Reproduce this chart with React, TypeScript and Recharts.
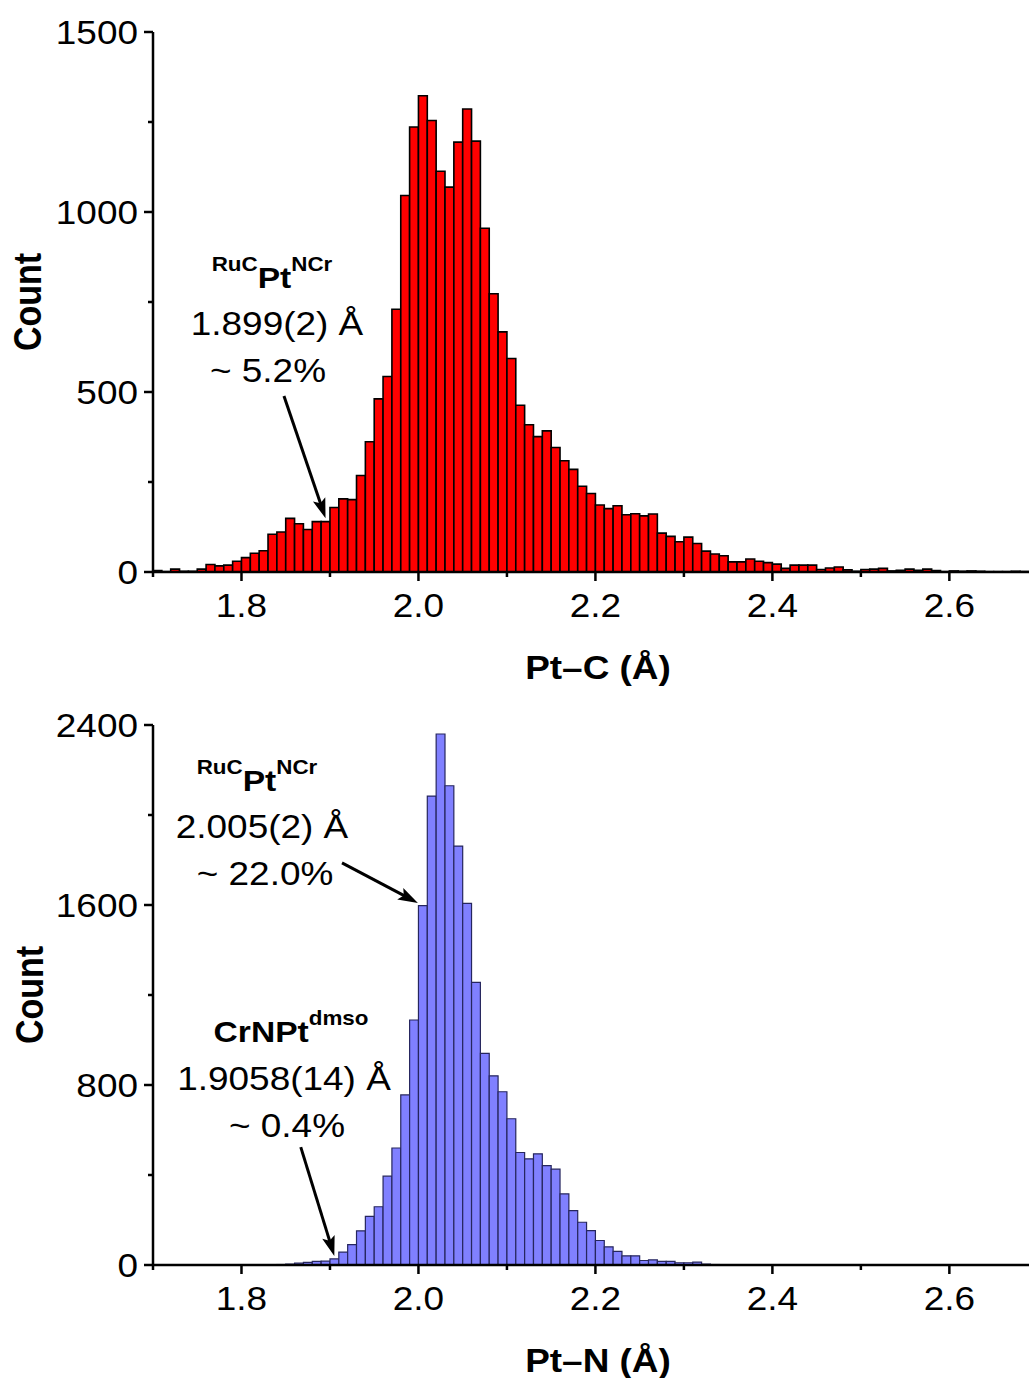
import { BarChart, Bar, XAxis, YAxis, ReferenceLine } from 'recharts';

const FONT = '"Liberation Sans", Arial, Helvetica, sans-serif';
const SX = 1.12; // glyphs in the figure are a bit wider than tall

// left edge of each 0.01 Å bin
const bins = [
  1.70, 1.71, 1.72, 1.73, 1.74, 1.75, 1.76, 1.77, 1.78, 1.79,
  1.80, 1.81, 1.82, 1.83, 1.84, 1.85, 1.86, 1.87, 1.88, 1.89,
  1.90, 1.91, 1.92, 1.93, 1.94, 1.95, 1.96, 1.97, 1.98, 1.99,
  2.00, 2.01, 2.02, 2.03, 2.04, 2.05, 2.06, 2.07, 2.08, 2.09,
  2.10, 2.11, 2.12, 2.13, 2.14, 2.15, 2.16, 2.17, 2.18, 2.19,
  2.20, 2.21, 2.22, 2.23, 2.24, 2.25, 2.26, 2.27, 2.28, 2.29,
  2.30, 2.31, 2.32, 2.33, 2.34, 2.35, 2.36, 2.37, 2.38, 2.39,
  2.40, 2.41, 2.42, 2.43, 2.44, 2.45, 2.46, 2.47, 2.48, 2.49,
  2.50, 2.51, 2.52, 2.53, 2.54, 2.55, 2.56, 2.57, 2.58, 2.59,
  2.60, 2.61, 2.62, 2.63, 2.64, 2.65, 2.66, 2.67, 2.68,
];

const ptcCounts = [
  4, 1, 8, 2, 2, 8, 21, 17, 19, 30,
  40, 52, 59, 105, 111, 149, 134, 118, 140, 140,
  179, 203, 201, 268, 362, 481, 543, 730, 1046, 1236,
  1323, 1254, 1113, 1069, 1194, 1286, 1197, 955, 773, 667,
  593, 463, 409, 376, 392, 346, 309, 285, 238, 218,
  186, 176, 184, 159, 162, 156, 161, 108, 99, 84,
  97, 79, 58, 50, 45, 28, 28, 36, 30, 26,
  22, 10, 19, 19, 19, 7, 11, 14, 6, 2,
  7, 8, 10, 3, 5, 8, 5, 8, 4, 1,
  3, 2, 3, 2, 1, 1, 1, 2, 1,
];

const ptnCounts = [
  0, 0, 0, 0, 0, 0, 0, 0, 0, 0,
  0, 0, 0, 0, 2, 4, 8, 12, 16, 17,
  27, 57, 91, 152, 216, 259, 395, 520, 756, 1089,
  1597, 2084, 2360, 2130, 1862, 1607, 1256, 941, 841, 770,
  650, 500, 472, 494, 442, 426, 316, 242, 190, 153,
  109, 81, 61, 41, 41, 20, 23, 16, 16, 10,
  10, 13, 4, 2, 1, 0, 0, 0, 0, 0,
  0, 0, 0, 0, 0, 0, 0, 0, 0, 0,
  0, 0, 0, 0, 0, 0, 0, 0, 0, 0,
  0, 0, 0, 0, 0, 0, 0, 0, 0,
];

const xTicks = [1.7, 1.8, 1.9, 2.0, 2.1, 2.2, 2.3, 2.4, 2.5, 2.6];
const ptcYTicks = [0, 250, 500, 750, 1000, 1250, 1500];
const ptnYTicks = [0, 400, 800, 1200, 1600, 2000, 2400];

// annotation arrows: [x1, y1, x2, y2] in data units
const ptcArrows = [[1.848, 489, 1.895, 149]];
const ptnArrows = [
  [1.9136, 1787, 1.9994, 1609],
  [1.867, 524, 1.9049, 40],
];

const ptcData = bins.map((b, i) => ({ bin: b + 0.005, count: ptcCounts[i] }));
const ptnData = bins.map((b, i) => ({ bin: b + 0.005, count: ptnCounts[i] }));

const XTick = (p: any) => {
  const { x, y, payload } = p;
  const v = payload.value;
  const major = Math.round(v * 10) % 2 === 0;
  return (
    <g>
      <line x1={x} x2={x} y1={y} y2={y + (major ? 9 : 5)} stroke="#000" strokeWidth={2.5} />
      {major && (
        <text transform={`translate(${x},${y + 45}) scale(${SX},1)`} textAnchor="middle"
          fontSize={33} fontFamily={FONT} fill="#000">{v.toFixed(1)}</text>
      )}
    </g>
  );
};

const YTick = (p: any) => {
  const { x, y, payload, step } = p;
  const major = payload.value % step === 0;
  return (
    <g>
      <line x1={x} x2={x - (major ? 9 : 5)} y1={y} y2={y} stroke="#000" strokeWidth={2.5} />
      {major && (
        <text transform={`translate(${x - 15},${y + 12}) scale(${SX},1)`} textAnchor="end"
          fontSize={33} fontFamily={FONT} fill="#000">{payload.value}</text>
      )}
    </g>
  );
};

const Arrow = (p: any) => {
  const { x1, y1, x2, y2 } = p;
  const a = Math.atan2(y2 - y1, x2 - x1);
  const c = Math.cos(a), s = Math.sin(a);
  const L = 20, W = 6.5;
  const bx = x2 - L * c, by = y2 - L * s;
  const pts = `${x2},${y2} ${bx + W * s},${by - W * c} ${x2 - L * 0.8 * c},${y2 - L * 0.8 * s} ${bx - W * s},${by + W * c}`;
  return (
    <g>
      <line x1={x1} y1={y1} x2={x2 - L * 0.7 * c} y2={y2 - L * 0.7 * s} stroke="#000" strokeWidth={3} />
      <polygon points={pts} fill="#000" />
    </g>
  );
};

const T = ({ x, y, size = 33, bold = false, children }: any) => (
  <text transform={`translate(${x},${y}) scale(${SX},1)`} textAnchor="middle" fontSize={size}
    fontWeight={bold ? 'bold' : 'normal'} fontFamily={FONT} fill="#000">{children}</text>
);

const Sup = ({ x, y, pre, main, post }: any) => (
  <text transform={`translate(${x},${y}) scale(${SX},1)`} textAnchor="middle" fontFamily={FONT}
    fontWeight="bold" fill="#000">
    {pre && <tspan fontSize={20} dy={-17}>{pre}</tspan>}
    <tspan fontSize={30} dy={pre ? 17 : 0}>{main}</tspan>
    <tspan fontSize={20} dy={-17}>{post}</tspan>
  </text>
);

const YTitle = ({ x, y }: any) => (
  <text transform={`translate(${x},${y}) scale(${SX},1) rotate(-90)`} textAnchor="middle" fontSize={34}
    fontWeight="bold" fontFamily={FONT} fill="#000">Count</text>
);

function Histogram({ data, yMax, yTicks, step, fill, stroke, sw, height, top, arrows }: any) {
  const axisStyle = { stroke: '#000', strokeWidth: 2.5 };
  return (
    <BarChart width={1029} height={height} data={data} margin={{ top, right: 0, bottom: 0, left: 0 }}
      barCategoryGap={0} barGap={0}>
      <XAxis xAxisId="cat" dataKey="bin" type="category" hide height={0} />
      <XAxis xAxisId="num" dataKey="bin" type="number" domain={[1.7, 2.69]} allowDataOverflow
        ticks={xTicks} interval={0} height={height - top - 540} tickSize={0} tickMargin={0}
        tick={<XTick />} tickLine={false} axisLine={axisStyle} />
      <YAxis type="number" domain={[0, yMax]} ticks={yTicks} interval={0} width={153} allowDataOverflow
        tickSize={0} tickMargin={0} tick={<YTick step={step} />} tickLine={false} axisLine={axisStyle} />
      <Bar xAxisId="cat" dataKey="count" fill={fill} stroke={stroke} strokeWidth={sw}
        barSize={8.84} isAnimationActive={false} />
      {arrows.map((a: number[], i: number) => (
        <ReferenceLine key={i} xAxisId="num" ifOverflow="visible"
          segment={[{ x: a[0], y: a[1] }, { x: a[2], y: a[3] }]} shape={<Arrow />} />
      ))}
    </BarChart>
  );
}

export default function App() {
  const overlay: any = { position: 'absolute', left: 0, top: 0, pointerEvents: 'none' };
  return (
    <div style={{ position: 'absolute', left: 0, top: 0, width: 1029, height: 1378, background: '#fff' }}>
      <div style={{ position: 'absolute', left: 0, top: 0 }}>
        <Histogram data={ptcData} yMax={1500} yTicks={ptcYTicks} step={500} fill="#ff0000"
          stroke="#000" sw={1.6} height={690} top={32} arrows={ptcArrows} />
        <svg width={1029} height={690} style={overlay}>
          <YTitle x={41} y={302} />
          <T x={598} y={679} bold>Pt–C (Å)</T>
          <Sup x={272} y={288} pre="RuC" main="Pt" post="NCr" />
          <T x={277} y={335}>1.899(2) Å</T>
          <T x={268} y={382}>~ 5.2%</T>
        </svg>
      </div>
      <div style={{ position: 'absolute', left: 0, top: 690 }}>
        <Histogram data={ptnData} yMax={2400} yTicks={ptnYTicks} step={800} fill="#8080ff"
          stroke="#26265e" sw={1.2} height={688} top={35} arrows={ptnArrows} />
        <svg width={1029} height={688} style={overlay}>
          <YTitle x={43} y={305} />
          <T x={598} y={682} bold>Pt–N (Å)</T>
          <Sup x={257} y={101} pre="RuC" main="Pt" post="NCr" />
          <T x={262} y={148}>2.005(2) Å</T>
          <T x={265} y={195}>~ 22.0%</T>
          <Sup x={291} y={352} main="CrNPt" post="dmso" />
          <T x={284} y={400}>1.9058(14) Å</T>
          <T x={287} y={447}>~ 0.4%</T>
        </svg>
      </div>
    </div>
  );
}
